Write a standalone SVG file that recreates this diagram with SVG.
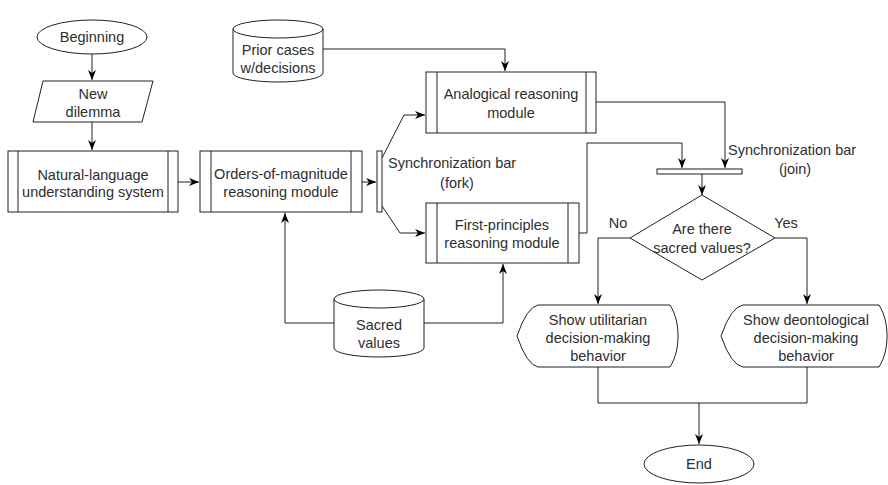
<svg xmlns="http://www.w3.org/2000/svg" width="888" height="485" viewBox="0 0 888 485">
  <style>
    .shape { fill: #ffffff; stroke: #202020; stroke-width: 1; }
    .line { fill: none; stroke: #202020; stroke-width: 1; }
    .edge { fill: none; stroke: #202020; stroke-width: 1; marker-end: url(#arrow); }
    text { font-family: "Liberation Sans", Arial, Helvetica, sans-serif; font-size: 14.5px; fill: #2e2e2e; text-anchor: middle; }
    .left { text-anchor: start; }
  </style>
  <defs>
    <marker id="arrow" viewBox="0 0 10 8" refX="10" refY="4" markerWidth="10" markerHeight="8" orient="auto" markerUnits="userSpaceOnUse">
      <path d="M0,0 L10,4 L0,8 L3,4 Z" fill="#000000"/>
    </marker>
  </defs>
  <rect width="888" height="485" fill="#ffffff"/>

  <!-- connectors -->
  <g id="connectors">
    <path class="edge" d="M92,54 V80"/>
    <path class="edge" d="M92,122 V150"/>
    <path class="edge" d="M178,182 H199"/>
    <path class="edge" d="M362,182 H376"/>
    <path class="edge" d="M382,158 L404,115 H425"/>
    <path class="edge" d="M382,206 L400,233 H425"/>
    <path class="edge" d="M323,49 H505 V71"/>
    <path class="edge" d="M596,102 H725 V168"/>
    <path class="edge" d="M579,233 H587 V143 H682 V168"/>
    <path class="edge" d="M334,323 H285 V213"/>
    <path class="edge" d="M424,323 H503 V264"/>
    <path class="edge" d="M702,174 V195"/>
    <path class="edge" d="M630,238 H598 V304"/>
    <path class="edge" d="M775,238 H807 V304"/>
    <path class="line" d="M598,367 V403 H807 V367"/>
    <path class="edge" d="M699,403 V444"/>
  </g>

  <g id="beginning">
    <ellipse class="shape" cx="92" cy="37" rx="55" ry="17"/>
    <text x="92" y="42">Beginning</text>
  </g>

  <g id="new-dilemma">
    <polygon class="shape" points="43,81 153,81 142,122 33,122"/>
    <text x="93" y="99">New</text>
    <text x="93" y="117">dilemma</text>
  </g>

  <g id="nlu">
    <rect class="shape" x="8" y="151" width="170" height="61"/>
    <path class="line" d="M18,151 V212 M168,151 V212"/>
    <text x="93" y="180">Natural-language</text>
    <text x="93" y="197">understanding system</text>
  </g>

  <g id="orders-of-magnitude">
    <rect class="shape" x="200" y="151" width="162" height="61"/>
    <path class="line" d="M211,151 V212 M351,151 V212"/>
    <text x="281" y="179">Orders-of-magnitude</text>
    <text x="281" y="197">reasoning module</text>
  </g>

  <g id="fork-bar">
    <rect class="shape" x="377" y="151" width="5" height="61"/>
    <text class="left" x="388" y="168">Synchronization bar</text>
    <text x="457" y="188">(fork)</text>
  </g>

  <g id="prior-cases">
    <path class="shape" d="M233,29 A45,9 0 0 1 323,29 V73 A45,9 0 0 1 233,73 Z"/>
    <path class="line" d="M233,29 A45,9 0 0 0 323,29"/>
    <text x="278" y="55">Prior cases</text>
    <text x="278" y="73">w/decisions</text>
  </g>

  <g id="analogical">
    <rect class="shape" x="426" y="72" width="170" height="61"/>
    <path class="line" d="M437,72 V133 M586,72 V133"/>
    <text x="511" y="99">Analogical reasoning</text>
    <text x="511" y="118">module</text>
  </g>

  <g id="first-principles">
    <rect class="shape" x="426" y="203" width="153" height="60"/>
    <path class="line" d="M437,203 V263 M568,203 V263"/>
    <text x="502" y="230">First-principles</text>
    <text x="502" y="248">reasoning module</text>
  </g>

  <g id="sacred-values">
    <path class="shape" d="M334,299 A45,9 0 0 1 424,299 V348 A45,9 0 0 1 334,348 Z"/>
    <path class="line" d="M334,299 A45,9 0 0 0 424,299"/>
    <text x="379" y="330">Sacred</text>
    <text x="379" y="348">values</text>
  </g>

  <g id="join-bar">
    <rect class="shape" x="657" y="169" width="85" height="5"/>
    <text class="left" x="728" y="155">Synchronization bar</text>
    <text x="795" y="174">(join)</text>
  </g>

  <g id="decision">
    <polygon class="shape" points="702,195 775,238 702,280 630,238"/>
    <text x="702" y="234">Are there</text>
    <text x="702" y="253">sacred values?</text>
    <text x="618" y="228">No</text>
    <text x="786" y="228">Yes</text>
  </g>

  <!-- display shapes: curved point on the left, rounded bulge on the right -->
  <g id="utilitarian">
    <path class="shape" d="M538,305 H670 C676,315 678,325 678,336 C678,347 676,357 670,367 H538 Q527,365 517,336 Q527,307 538,305 Z"/>
    <text x="598" y="325">Show utilitarian</text>
    <text x="598" y="343">decision-making</text>
    <text x="598" y="361">behavior</text>
  </g>

  <g id="deontological">
    <path class="shape" d="M743,305 H879 C885,315 887,325 887,336 C887,347 885,357 879,367 H743 Q731,365 721,336 Q731,307 743,305 Z"/>
    <text x="806" y="325">Show deontological</text>
    <text x="806" y="343">decision-making</text>
    <text x="806" y="361">behavior</text>
  </g>

  <g id="end">
    <ellipse class="shape" cx="699" cy="464" rx="55" ry="19"/>
    <text x="699" y="469">End</text>
  </g>
</svg>
